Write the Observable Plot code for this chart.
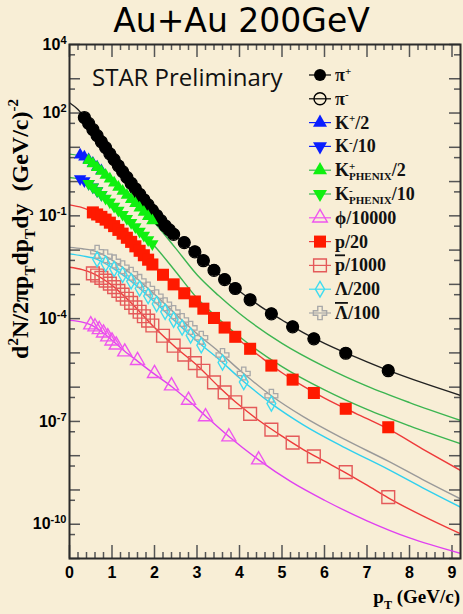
<!DOCTYPE html>
<html><head><meta charset="utf-8">
<script src="https://cdn.jsdelivr.net/npm/d3@7"></script>
<script src="https://cdn.jsdelivr.net/npm/@observablehq/plot@0.6"></script>
<style>
html,body{margin:0;padding:0;background:#f8eed6;}
#wrap{position:relative;width:463px;height:614px;overflow:hidden;background:#f8eed6;}
#title{position:absolute;left:0;top:1px;width:483px;text-align:center;font-family:"DejaVu Sans",sans-serif;font-size:33px;line-height:40px;color:#000;}
#chart{position:absolute;left:0;top:0;}
</style></head><body>
<div id="wrap"><div id="chart"></div><div id="title">Au+Au 200GeV</div></div>
<script>
// ---------- data (log10 of d2N/2πpT dpT dy) ----------
const piPlusX = [0.35,0.45,0.55,0.65,0.75,0.85,0.95,1.05,1.15,1.25,1.35,1.45,1.55,1.65,1.75,1.85,1.95,2.05,2.15,2.25,2.35,2.45,2.7,2.95,3.15,3.4,3.65,3.9,4.25,4.75,5.25,5.75,6.5,7.5];
const piPlusLog = [1.86,1.69,1.51,1.34,1.16,0.99,0.81,0.64,0.47,0.29,0.12,-0.05,-0.21,-0.37,-0.52,-0.68,-0.83,-0.99,-1.14,-1.29,-1.41,-1.53,-1.77,-2.04,-2.30,-2.58,-2.85,-3.11,-3.44,-3.85,-4.23,-4.58,-5.00,-5.51];
const piMinusX = [0.35,0.45,0.55,0.65,0.75,0.85,0.95,1.05,1.15,1.25,1.35,1.45,1.55,1.65,1.75,1.85,1.95,2.05,2.15,2.25,2.35,2.45,2.7,2.95,3.15,3.4,3.65,3.9,4.25,4.75,5.25,5.75,6.5,7.5];
const piMinusLog = [1.87,1.70,1.52,1.34,1.16,0.99,0.81,0.64,0.46,0.29,0.12,-0.05,-0.21,-0.37,-0.53,-0.68,-0.84,-0.99,-1.14,-1.29,-1.41,-1.54,-1.78,-2.05,-2.31,-2.59,-2.86,-3.12,-3.45,-3.86,-4.24,-4.59,-5.01,-5.52];

const kStarX = [0.25,0.35,0.45,0.55,0.65,0.75];
const kPlusStarLog = [0.78,0.72,0.64,0.54,0.43,0.32];
const kMinusStarLog = [0.08,0.02,-0.06,-0.16,-0.27,-0.38];

const kPhenixX = [0.45,0.55,0.65,0.75,0.85,0.95,1.05,1.15,1.25,1.35,1.45,1.55,1.65,1.75,1.85,1.95];
const kPlusPhenixLog = [0.62,0.52,0.41,0.30,0.19,0.08,-0.04,-0.16,-0.28,-0.40,-0.52,-0.64,-0.77,-0.89,-1.02,-1.14];
const kMinusPhenixLog = [-0.06,-0.16,-0.27,-0.38,-0.49,-0.60,-0.72,-0.84,-0.96,-1.08,-1.20,-1.32,-1.45,-1.57,-1.70,-1.82];

const phiX = [0.5,0.6,0.7,0.8,0.9,1.0,1.1,1.3,1.6,2.0,2.4,2.8,3.2,3.75,4.45];
const phiLog = [-4.18,-4.24,-4.32,-4.42,-4.53,-4.65,-4.77,-4.97,-5.22,-5.60,-5.96,-6.38,-6.86,-7.45,-8.12];

const protonX = [0.55,0.65,0.75,0.85,0.95,1.05,1.15,1.25,1.35,1.45,1.55,1.65,1.75,1.85,1.95,2.2,2.45,2.7,2.95,3.15,3.4,3.65,3.9,4.25,4.75,5.25,5.75,6.5,7.5];
const protonLog = [-0.90,-0.96,-1.03,-1.11,-1.20,-1.30,-1.41,-1.52,-1.64,-1.76,-1.89,-2.02,-2.15,-2.28,-2.42,-2.72,-3.00,-3.26,-3.50,-3.71,-3.98,-4.26,-4.53,-4.88,-5.37,-5.78,-6.17,-6.63,-7.17];
const pbarLog = [-2.68,-2.74,-2.81,-2.89,-2.98,-3.08,-3.19,-3.30,-3.42,-3.54,-3.67,-3.80,-3.93,-4.06,-4.20,-4.50,-4.79,-5.05,-5.30,-5.52,-5.86,-6.15,-6.44,-6.78,-7.24,-7.62,-8.02,-8.48,-9.21];

const lambdaX = [0.65,0.85,1.05,1.25,1.45,1.65,1.85,2.05,2.25,2.45,2.65,2.85,3.1,3.6,4.1,4.75];
const lambdaLog = [-2.27,-2.40,-2.55,-2.72,-2.91,-3.12,-3.34,-3.57,-3.80,-4.03,-4.26,-4.49,-4.78,-5.28,-5.85,-6.48];
const lambdaBarLog = [-2.05,-2.18,-2.33,-2.50,-2.69,-2.90,-3.12,-3.35,-3.58,-3.81,-4.04,-4.27,-4.56,-5.06,-5.60,-6.25];

// fit curves (knots)
const piFitX = [0,0.2,0.35,0.7,1.0,1.5,2.0,2.5,3.0,3.5,4.0,4.5,5.0,5.5,6.0,6.5,7.0,7.5,8.3,9.2];
const piFitLog = [2.30,2.10,1.87,1.25,0.72,-0.13,-0.91,-1.59,-2.12,-2.69,-3.20,-3.65,-4.04,-4.41,-4.72,-5.00,-5.26,-5.51,-5.87,-6.24];
const kFitX = [0,0.2,0.45,1.0,1.5,2.0,2.5,3.0,3.5,4.0,5.0,6.0,7.0,8.0,9.2];
const kPlusFitLog = [0.80,0.76,0.62,0.02,-0.58,-1.20,-1.95,-2.72,-3.32,-3.85,-4.72,-5.40,-5.97,-6.45,-6.97];
const kMinusFitLog = [0.12,0.08,-0.06,-0.66,-1.26,-1.88,-2.63,-3.40,-4.00,-4.53,-5.40,-6.08,-6.65,-7.13,-7.65];
const phiFitX = [0,0.3,0.5,0.8,1.0,1.3,1.6,2.0,2.4,2.8,3.2,3.75,4.45,5.2,6.0,7.0,8.0,9.2];
const phiFitLog = [-4.05,-4.10,-4.18,-4.42,-4.63,-4.95,-5.24,-5.62,-5.98,-6.39,-6.84,-7.44,-8.12,-8.75,-9.30,-9.90,-10.40,-10.85];
const pFitX = [0,0.3,0.55,1.0,1.5,2.0,2.5,3.0,3.5,4.0,4.5,5.0,5.5,6.0,6.5,7.0,7.5,8.3,9.2];
const pFitLog = [-0.68,-0.76,-0.88,-1.25,-1.82,-2.48,-3.05,-3.55,-4.09,-4.63,-5.12,-5.58,-5.97,-6.32,-6.63,-6.92,-7.22,-7.80,-8.43];
const pbarFitLog = [-2.50,-2.57,-2.68,-3.03,-3.60,-4.26,-4.84,-5.36,-5.97,-6.53,-7.01,-7.43,-7.82,-8.16,-8.50,-8.86,-9.23,-9.75,-10.28];
const lamFitX = [0,0.3,0.65,1.0,1.5,2.0,2.5,3.0,3.5,4.0,4.75,5.5,6.5,7.5,8.3,9.2];
const lamFitLog = [-2.11,-2.17,-2.27,-2.51,-2.96,-3.51,-4.09,-4.66,-5.17,-5.73,-6.48,-7.10,-7.78,-8.40,-8.93,-9.50];
const lamBarFitLog = [-1.92,-1.96,-2.05,-2.29,-2.74,-3.29,-3.87,-4.44,-4.95,-5.50,-6.25,-6.86,-7.54,-8.16,-8.69,-9.26];

const xTickLabels = [0,1,2,3,4,5,6,7,8,9];
const yTickLabels = [1e4,1e2,1e-1,1e-4,1e-7,1e-10];

// ---------- layout ----------
const W = 463, H = 614, mL = 69, mR = 3, mT = 44, mB = 56;
const plotW = W - mL - mR, plotH = H - mT - mB;
const rows = (xs, ls) => xs.map((x, i) => ({x, y: 10 ** ls[i]}));

const triDown = {draw(ctx, size) {
  const y = Math.sqrt(size / (Math.sqrt(3) * 3));
  ctx.moveTo(0, 2 * y); ctx.lineTo(-Math.sqrt(3) * y, -y); ctx.lineTo(Math.sqrt(3) * y, -y); ctx.closePath();
}};

const C = {black:"#000000", blue:"#0a1eff", green:"#10f010", greenLine:"#3cb551", mag:"#ee55ee", magLine:"#e040f0",
  red:"#ff1a00", redLine:"#ee3a3a", pbar:"#e45a5a", cyan:"#3fdcf0", cyanLine:"#30d0ee", gray:"#a8a8a8", grayLine:"#9a9a9a"};

const curves = [
  [piFitX, piFitLog, "#222"],
  [kFitX, kPlusFitLog, C.greenLine],
  [kFitX, kMinusFitLog, C.greenLine],
  [phiFitX, phiFitLog, C.magLine],
  [pFitX, pFitLog, C.redLine],
  [pFitX, pbarFitLog, C.redLine],
  [lamFitX, lamFitLog, C.cyanLine],
  [lamFitX, lamBarFitLog, C.grayLine]
];

const decades = d3.range(-11, 5).map(e => 10 ** e);
const fives = d3.range(-11, 4).map(e => 5 * 10 ** e);
const xMinor = d3.range(1, 46).map(i => +(i * 0.2).toFixed(1)).filter(v => Math.abs(v - Math.round(v)) > 1e-6);
const tickColor = "#555";

const plot = Plot.plot({
  width: W, height: H, marginLeft: mL, marginRight: mR, marginTop: mT, marginBottom: mB,
  x: {domain: [0, 9.2]},
  y: {type: "log", domain: [1e-11, 1e4]},
  style: {background: "transparent", fontFamily: "'Liberation Sans', Arial, sans-serif", fontSize: "16px", fontWeight: "bold", color: "#000", overflow: "visible"},
  marks: [
    Plot.tickY(decades, {y: d => d, stroke: tickColor, strokeWidth: 1.5, insetRight: plotW - 11}),
    Plot.tickY(fives, {y: d => d, stroke: tickColor, strokeWidth: 1.5, insetRight: plotW - 6}),
    Plot.tickY(decades, {y: d => d, stroke: tickColor, strokeWidth: 1.5, insetLeft: plotW - 11}),
    Plot.tickY(fives, {y: d => d, stroke: tickColor, strokeWidth: 1.5, insetLeft: plotW - 6}),
    Plot.tickX(xTickLabels, {x: d => d, stroke: tickColor, strokeWidth: 1.5, insetTop: plotH - 13}),
    Plot.tickX(xMinor, {x: d => d, stroke: tickColor, strokeWidth: 1.5, insetTop: plotH - 6}),
    Plot.tickX(xTickLabels, {x: d => d, stroke: tickColor, strokeWidth: 1.5, insetBottom: plotH - 13}),
    Plot.tickX(xMinor, {x: d => d, stroke: tickColor, strokeWidth: 1.5, insetBottom: plotH - 6}),
    ...curves.map(([xs, ls, c]) => Plot.line(rows(xs, ls), {x: "x", y: "y", stroke: c, strokeWidth: 1.4, curve: "monotone-x", clip: true})),
    Plot.dot(rows(piMinusX, piMinusLog), {x: "x", y: "y", symbol: "circle", r: 6, stroke: C.black, strokeWidth: 1.2, fill: "none"}),
    Plot.dot(rows(piPlusX, piPlusLog), {x: "x", y: "y", symbol: "circle", r: 6, fill: C.black}),
    Plot.dot(rows(kStarX, kPlusStarLog), {x: "x", y: "y", symbol: "triangle", r: 4.6, fill: C.blue}),
    Plot.dot(rows(kStarX, kMinusStarLog), {x: "x", y: "y", symbol: triDown, r: 4.6, fill: C.blue}),
    Plot.dot(rows(kPhenixX, kPlusPhenixLog), {x: "x", y: "y", symbol: "triangle", r: 4.6, fill: C.green}),
    Plot.dot(rows(kPhenixX, kMinusPhenixLog), {x: "x", y: "y", symbol: triDown, r: 4.6, fill: C.green}),
    Plot.dot(rows(phiX, phiLog), {x: "x", y: "y", symbol: "triangle", r: 5.2, stroke: C.mag, strokeWidth: 1.4, fill: "none"}),
    Plot.dot(rows(protonX, protonLog), {x: "x", y: "y", symbol: "square", r: 6.8, fill: C.red}),
    Plot.dot(rows(protonX, pbarLog), {x: "x", y: "y", symbol: "square", r: 7.2, stroke: C.pbar, strokeWidth: 1.4, fill: "none"}),
    Plot.dot(rows(lambdaX, lambdaBarLog), {x: "x", y: "y", symbol: "cross", r: 5.4, stroke: C.gray, strokeWidth: 1.3, fill: "none"}),
    Plot.dot(rows(lambdaX, lambdaLog), {x: "x", y: "y", symbol: "diamond", r: 4.6, stroke: C.cyan, strokeWidth: 1.4, fill: "none"}),
    Plot.frame({stroke: "#2b2b2b", strokeWidth: 2}),
    Plot.axisX({ticks: xTickLabels, tickSize: 0, tickPadding: 8, tickFormat: d => String(d), label: null}),
    Plot.axisY({ticks: yTickLabels, tickSize: 0, tickPadding: 3, tickFormat: d => String(Math.round(Math.log10(d))), label: null})
  ]
});
document.getElementById("chart").appendChild(plot);
const svg = d3.select(plot);

// y tick labels as 10^n
svg.selectAll('g[aria-label="y-axis tick label"] text').each(function() {
  const t = d3.select(this); const e = t.text(); t.text(null);
  t.append("tspan").text("10");
  t.append("tspan").attr("dy", "-0.55em").attr("font-size", "11px").text(e);
});

const serif = "'Liberation Serif', 'Times New Roman', serif";
function richText(t, parts, size, subSize, supK = 0.42, subK = 0.3) {
  let last = 0, lastSupW = 0;
  parts.forEach(([s, kind]) => {
    const sp = t.append("tspan").text(s);
    if (kind === "sup") { sp.attr("font-size", subSize).attr("dy", -(supK * size) - last); last = -(supK * size); lastSupW = sp.node().getComputedTextLength(); }
    else if (kind === "sub") { sp.attr("font-size", subSize).attr("dy", subK * size - last); last = subK * size; }
    else if (kind === "stacksub") { sp.attr("font-size", subSize).attr("dx", -lastSupW).attr("dy", subK * size - last); last = subK * size; }
    else if (kind === "over") { sp.attr("dy", -last).style("text-decoration", "overline"); last = 0; }
    else { sp.attr("dy", -last); last = 0; }
  });
}

// y-axis title
const ylab = svg.append("text").attr("transform", "translate(28,229) rotate(-90)")
  .attr("text-anchor", "middle").attr("font-family", serif).attr("font-weight", "bold").attr("font-size", 24).attr("fill", "#000");
richText(ylab, [["d"],["2","sup"],["N/2πp"],["T","sub"],["dp"],["T","sub"],["dy\u00a0\u00a0(GeV/c)"],["-2","sup"]], 24, 15);

// x-axis title
const xlab = svg.append("text").attr("x", 460).attr("y", 603).attr("text-anchor", "end")
  .attr("font-family", serif).attr("font-weight", "bold").attr("font-size", 19).attr("fill", "#000");
richText(xlab, [["p"],["T","sub"],[" (GeV/c)"]], 19, 12);

// STAR Preliminary
svg.append("text").attr("x", 92).attr("y", 86).attr("text-anchor", "start").attr("font-family", "'Open Sans', sans-serif")
  .attr("font-size", 24).attr("font-weight", "normal").attr("fill", "#111").text("STAR Preliminary");

// legend
const legendItems = [
  {parts: [["π"],["+","sup"]], sym: d3.symbolCircle, r: 6, fill: C.black, stroke: null, line: C.black},
  {parts: [["π"],["-","sup"]], sym: d3.symbolCircle, r: 6, fill: "none", stroke: C.black, line: C.black},
  {parts: [["K"],["+","sup"],["/2"]], sym: d3.symbolTriangle, r: 5.2, fill: C.blue, stroke: null, line: C.blue},
  {parts: [["K"],["-","sup"],["/10"]], sym: triDown, r: 5.2, fill: C.blue, stroke: null, line: C.blue},
  {parts: [["K"],["+","sup"],["PHENIX","stacksub"],["/2"]], sym: d3.symbolTriangle, r: 5.2, fill: C.green, stroke: null, line: C.greenLine},
  {parts: [["K"],["-","sup"],["PHENIX","stacksub"],["/10"]], sym: triDown, r: 5.2, fill: C.green, stroke: null, line: C.greenLine},
  {parts: [["ϕ/10000"]], sym: d3.symbolTriangle, r: 5.4, fill: "none", stroke: C.mag, line: C.mag},
  {parts: [["p/20"]], sym: d3.symbolSquare, r: 6.8, fill: C.red, stroke: null, line: C.redLine},
  {parts: [["p","over"],["/1000"]], sym: d3.symbolSquare, r: 7.2, fill: "none", stroke: C.pbar, line: C.pbar},
  {parts: [["Λ/200"]], sym: d3.symbolDiamond, r: 4.8, fill: "none", stroke: C.cyan, line: C.cyan},
  {parts: [["Λ","over"],["/100"]], sym: d3.symbolCross, r: 5.6, fill: "none", stroke: C.gray, line: C.gray}
];
const lg = svg.append("g").attr("class", "legend").attr("text-anchor", "start");
legendItems.forEach((it, i) => {
  const y = 75 + i * 23.8;
  const g = lg.append("g").attr("transform", `translate(0,${y})`);
  g.append("line").attr("x1", 309).attr("x2", 331).attr("y1", 0).attr("y2", 0).attr("stroke", it.line).attr("stroke-width", 1.2);
  g.append("path").attr("transform", "translate(320,0)")
    .attr("d", d3.symbol().type(it.sym).size(Math.PI * it.r * it.r)())
    .attr("fill", it.fill).attr("stroke", it.stroke || "none").attr("stroke-width", 1.4);
  const t = g.append("text").attr("x", 335).attr("y", 6).attr("text-anchor", "start").attr("font-family", serif)
    .attr("font-weight", "bold").attr("font-size", 18).attr("fill", "#111");
  richText(t, it.parts, 18, 11, 0.36, 0.22);
});
</script></body></html>
